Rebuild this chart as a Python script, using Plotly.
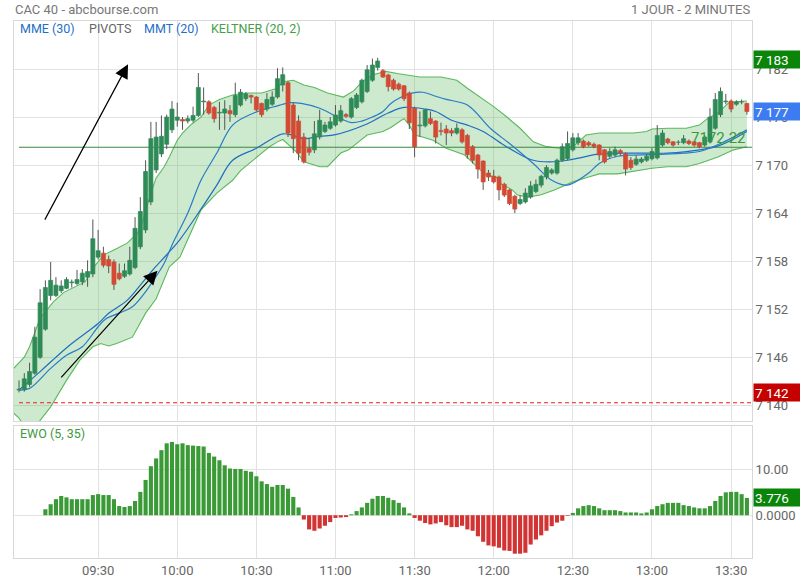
import plotly.graph_objects as go
import pandas as pd

DAY = "2024-01-02 "

# ---------------- candles (2-minute bars from 09:00) ----------------
opens = [7141.9, 7142.0, 7142.6, 7144.0, 7146.0, 7149.5, 7153.7, 7153.7, 7154.3, 7154.6,
         7155.3, 7155.2, 7155.4, 7156.0, 7156.4, 7158.5, 7159.0, 7158.2, 7157.9, 7156.5,
         7156.1, 7156.4, 7157.2, 7159.8, 7161.9, 7165.4, 7169.4, 7171.4, 7172.6, 7174.4,
         7175.6, 7175.7, 7175.5, 7175.6, 7176.2, 7177.9, 7177.9, 7177.2, 7176.5, 7176.5,
         7176.8, 7176.3, 7177.5, 7178.3, 7178.7, 7178.5, 7177.7, 7177.0, 7177.6, 7178.5,
         7180.0, 7180.3, 7177.5, 7175.5, 7173.5, 7172.1, 7171.9, 7173.5, 7174.2, 7174.6,
         7175.0, 7175.5, 7176.3, 7176.0, 7177.2, 7177.9, 7179.2, 7180.6, 7182.2, 7181.8,
         7181.25, 7180.6, 7180.1, 7179.9, 7179.0, 7177.1, 7174.9, 7174.9, 7175.8, 7175.5,
         7174.3, 7174.5, 7174.3, 7174.0, 7174.4, 7173.7, 7172.3, 7171.25, 7170.5, 7169.0,
         7168.6, 7168.5, 7167.6, 7166.9, 7166.1, 7165.2, 7165.4, 7166.0, 7166.7, 7167.5,
         7168.5, 7169.0, 7169.0, 7170.6, 7170.8, 7171.9, 7172.8, 7173.0, 7172.8, 7172.6,
         7172.5, 7171.9, 7171.1, 7171.25, 7171.8, 7171.4, 7170.6, 7170.1, 7170.4, 7170.6,
         7170.8, 7170.9, 7172.5, 7173.25, 7172.9, 7172.85, 7172.8, 7173.0, 7172.9, 7172.8,
         7172.5, 7172.9, 7174.6, 7176.3, 7177.9, 7178.0, 7177.6, 7177.9, 7177.7]
highs = [7143.1, 7144.0, 7145.3, 7149.8, 7154.5, 7155.6, 7157.9, 7156.0, 7155.6, 7156.0,
         7155.7, 7156.9, 7157.0, 7158.1, 7163.2, 7161.9, 7159.8, 7158.7, 7158.2, 7157.7,
         7157.7, 7159.8, 7163.5, 7166.0, 7170.6, 7175.4, 7175.4, 7176.2, 7176.3, 7178.0,
         7177.8, 7176.0, 7176.2, 7177.3, 7181.5, 7179.7, 7178.1, 7177.4, 7177.9, 7178.1,
         7177.5, 7180.3, 7179.5, 7179.1, 7178.8, 7178.6, 7177.8, 7179.0, 7179.2, 7182.1,
         7182.2, 7180.5, 7177.8, 7176.2, 7174.0, 7173.3, 7175.5, 7176.9, 7175.4, 7176.0,
         7177.5, 7177.5, 7176.5, 7178.5, 7179.0, 7180.8, 7182.5, 7183.3, 7183.4, 7182.0,
         7181.4, 7180.8, 7180.3, 7180.0, 7179.2, 7177.3, 7176.7, 7177.0, 7176.7, 7175.6,
         7175.3, 7175.0, 7174.6, 7175.2, 7174.6, 7173.9, 7172.5, 7171.4, 7170.6, 7169.4,
         7169.4, 7168.7, 7167.8, 7167.0, 7166.3, 7166.25, 7167.1, 7168.0, 7168.2, 7168.8,
         7170.0, 7169.6, 7170.8, 7172.7, 7174.2, 7174.0, 7174.0, 7173.2, 7173.0, 7172.8,
         7172.6, 7172.0, 7172.1, 7172.3, 7172.0, 7171.6, 7171.0, 7171.2, 7171.0, 7171.4,
         7172.1, 7175.0, 7174.4, 7173.4, 7173.0, 7173.1, 7173.75, 7173.2, 7173.0, 7172.9,
         7173.7, 7177.1, 7179.0, 7179.7, 7178.9, 7178.2, 7178.1, 7178.2, 7177.8]
lows = [7141.6, 7141.7, 7142.3, 7143.8, 7145.8, 7149.3, 7153.1, 7153.5, 7154.0, 7154.5,
        7154.7, 7155.0, 7155.0, 7154.8, 7156.0, 7158.2, 7157.2, 7156.5, 7154.4, 7155.6,
        7155.9, 7156.2, 7157.0, 7159.5, 7161.5, 7165.0, 7169.0, 7171.0, 7172.0, 7174.0,
        7174.8, 7174.4, 7175.2, 7175.3, 7176.0, 7176.3, 7176.3, 7175.3, 7174.4, 7174.4,
        7175.4, 7176.0, 7177.3, 7178.0, 7177.7, 7176.7, 7176.0, 7176.7, 7177.4, 7178.3,
        7179.2, 7173.5, 7171.5, 7170.6, 7170.2, 7171.2, 7171.5, 7173.2, 7174.0, 7174.4,
        7174.8, 7175.3, 7175.9, 7175.8, 7177.0, 7177.7, 7179.0, 7180.4, 7181.8, 7180.9,
        7179.2, 7179.3, 7179.3, 7178.0, 7174.5, 7171.0, 7173.5, 7174.7, 7175.0, 7172.7,
        7173.7, 7172.5, 7173.6, 7173.8, 7172.7, 7170.8, 7170.2, 7168.3, 7166.9, 7168.0,
        7167.7, 7165.6, 7166.0, 7165.0, 7164.0, 7165.0, 7165.2, 7165.8, 7166.5, 7167.2,
        7168.2, 7168.8, 7168.8, 7170.4, 7170.6, 7171.7, 7172.5, 7172.1, 7172.3, 7172.1,
        7170.6, 7170.2, 7170.9, 7171.0, 7171.2, 7168.7, 7169.4, 7169.9, 7170.2, 7170.4,
        7170.6, 7170.7, 7172.3, 7172.6, 7172.3, 7172.5, 7172.6, 7172.5, 7172.3, 7172.1,
        7172.3, 7172.7, 7174.4, 7176.0, 7177.6, 7176.6, 7177.4, 7177.6, 7176.3]
closes = [7142.0, 7143.3, 7144.2, 7148.5, 7152.8, 7154.7, 7155.6, 7155.0, 7154.9, 7155.7,
          7155.4, 7155.7, 7156.5, 7156.7, 7160.8, 7159.3, 7157.5, 7157.4, 7155.1, 7155.8,
          7156.8, 7158.1, 7162.1, 7164.2, 7169.2, 7173.3, 7173.5, 7173.6, 7176.0, 7177.0,
          7176.0, 7175.5, 7175.8, 7176.2, 7179.7, 7178.0, 7176.5, 7175.8, 7176.6, 7177.0,
          7176.4, 7178.7, 7179.1, 7178.9, 7178.5, 7176.9, 7176.3, 7178.2, 7178.5, 7180.8,
          7181.3, 7174.0, 7173.3, 7171.5, 7170.4, 7171.6, 7173.9, 7175.6, 7175.0, 7175.4,
          7176.25, 7176.8, 7176.1, 7178.3, 7178.75, 7180.6, 7181.9, 7182.5, 7183.0, 7181.0,
          7179.8, 7179.5, 7179.5, 7178.3, 7175.3, 7172.3, 7175.0, 7176.9, 7175.2, 7173.5,
          7174.2, 7174.0, 7174.0, 7174.6, 7172.9, 7171.3, 7170.6, 7169.5, 7167.9, 7168.5,
          7167.9, 7166.9, 7166.25, 7165.2, 7164.5, 7165.7, 7166.5, 7167.4, 7167.6, 7168.6,
          7169.7, 7169.4, 7170.6, 7172.3, 7172.7, 7173.4, 7173.4, 7172.3, 7172.5, 7172.3,
          7171.25, 7170.4, 7171.7, 7171.9, 7171.5, 7169.5, 7169.7, 7170.75, 7170.75, 7171.1,
          7171.7, 7173.7, 7174.0, 7172.8, 7172.5, 7172.9, 7173.3, 7172.7, 7172.5, 7172.3,
          7173.5, 7176.0, 7178.2, 7179.2, 7178.0, 7177.0, 7177.9, 7177.95, 7176.7]

# ---------------- EWO (5, 35) histogram ----------------
ewo = [None, None, None, None, None,
       1.3, 2.4, 3.5, 4.2, 3.9, 3.5, 3.5, 3.5, 3.5, 4.4, 4.6, 4.4, 4.4, 3.5, 2.0,
       1.8, 2.0, 3.1, 5.1, 7.7, 10.7, 12.4, 14.2, 15.7, 16.0, 15.5, 15.7, 15.3, 15.2,
       15.1, 15.0, 13.6, 12.8, 12.0, 10.9, 10.2, 10.1, 10.1, 9.7, 9.5, 8.5, 7.4, 6.8,
       6.2, 6.6, 6.6, 5.8, 4.0, 1.7, -0.95, -3.1, -3.4, -2.9, -2.3, -1.5, -0.6, -0.5,
       -0.4, 0.2, 0.9, 1.7, 2.7, 3.6, 4.2, 4.2, 3.8, 3.3, 2.7, 1.7, 0.4, -0.6, -1.2,
       -1.7, -2.0, -1.8, -1.5, -2.2, -2.6, -2.6, -2.3, -3.1, -3.4, -4.6, -5.8, -6.6,
       -6.8, -7.1, -7.7, -7.8, -8.4, -8.4, -8.2, -6.4, -5.3, -4.4, -3.4, -2.4, -1.6,
       -1.2, -0.15, 0.5, 1.5, 2.0, 2.2, 2.0, 1.5, 1.1, 1.1, 1.1, 0.9, 0.6, 0.6, 0.6,
       0.4, 0.6, 1.3, 2.0, 2.4, 2.7, 2.7, 2.7, 2.2, 2.0, 1.7, 1.5, 1.5, 2.0, 3.1, 4.2,
       5.0, 5.1, 5.1, 4.6, 3.776]

# ---------------- Keltner (20, 2) ----------------
kelt_up_t = ["08:58", "09:02", "09:04", "09:06", "09:08", "09:09", "09:11", "09:13", "09:17", "09:21",
             "09:25", "09:28", "09:32", "09:36", "09:41", "09:45", "09:47", "09:50", "09:52", "09:55",
             "09:57", "10:00", "10:02", "10:05", "10:09", "10:12", "10:16", "10:21", "10:26", "10:32",
             "10:38", "10:40", "10:44", "10:48", "10:52", "10:57", "11:03", "11:07", "11:10", "11:14",
             "11:19", "11:24", "11:32", "11:40", "11:46", "11:50", "11:55", "12:00", "12:05", "12:10",
             "12:15", "12:20", "12:25", "12:30", "12:35", "12:40", "12:47", "12:53", "12:58", "13:00",
             "13:06", "13:13", "13:18", "13:21", "13:25", "13:29", "13:32", "13:36"]
kelt_up_v = [7144.6, 7146.0, 7147.3, 7149.0, 7150.9, 7151.25, 7152.1, 7152.9, 7154.1, 7154.75,
             7155.4, 7157.1, 7158.75, 7159.4, 7160.25, 7161.5, 7163.1, 7166.5, 7168.4, 7169.75,
             7171.0, 7173.1, 7174.0, 7175.0, 7176.0, 7177.5, 7178.2, 7178.75, 7179.0, 7179.0,
             7179.6, 7180.4, 7180.6, 7180.0, 7179.7, 7179.0, 7178.5, 7179.3, 7180.4, 7181.25,
             7181.7, 7181.4, 7181.0, 7181.0, 7180.6, 7179.6, 7178.5, 7177.3, 7176.0, 7174.6,
             7172.9, 7172.3, 7172.1, 7172.3, 7173.75, 7174.0, 7174.0, 7174.0, 7174.2, 7174.5,
             7174.6, 7174.6, 7175.0, 7175.8, 7176.5, 7177.75, 7177.9, 7178.0]
kelt_lo_t = ["08:58", "09:00", "09:02", "09:05", "09:08", "09:12", "09:18", "09:23", "09:28", "09:31",
             "09:34", "09:37", "09:43", "09:48", "09:52", "09:57", "10:01", "10:09", "10:15", "10:21",
             "10:24", "10:30", "10:35", "10:38", "10:40", "10:43", "10:45", "10:48", "10:50", "10:54",
             "10:57", "11:02", "11:05", "11:08", "11:12", "11:18", "11:21", "11:25", "11:26", "11:28",
             "11:30", "11:33", "11:37", "11:42", "11:45", "11:49", "11:53", "11:57", "12:01", "12:03",
             "12:07", "12:09", "12:13", "12:18", "12:23", "12:30", "12:36", "12:40", "12:47", "12:53",
             "13:00", "13:06", "13:13", "13:18", "13:25", "13:31", "13:36"]
kelt_lo_v = [7139.0, 7138.4, 7137.3, 7137.0, 7138.1, 7139.8, 7143.1, 7145.6, 7147.3, 7147.7,
             7147.4, 7147.7, 7148.5, 7151.5, 7153.3, 7157.3, 7158.5, 7164.4, 7166.5, 7168.1,
             7169.3, 7171.0, 7172.3, 7172.9, 7173.2, 7172.3, 7171.7, 7170.4, 7170.2, 7169.8,
             7169.8, 7171.5, 7171.9, 7172.7, 7173.75, 7174.2, 7174.7, 7175.6, 7175.8, 7175.0,
             7173.75, 7173.5, 7173.1, 7172.1, 7171.7, 7171.25, 7170.0, 7168.75, 7168.5, 7167.6,
             7166.9, 7166.25, 7166.0, 7166.3, 7166.9, 7167.9, 7168.5, 7168.9, 7168.9, 7169.2,
             7169.6, 7169.8, 7169.8, 7170.2, 7171.0, 7171.9, 7172.3]

# ---------------- moving averages ----------------
mmt_t = ["09:00", "09:04", "09:12", "09:18", "09:24", "09:30", "09:33", "09:38", "09:43", "09:47",
         "09:51", "09:55", "09:58", "10:04", "10:09", "10:15", "10:21", "10:29", "10:38", "10:43",
         "10:47", "10:54", "11:02", "11:06", "11:10", "11:14", "11:18", "11:21", "11:25", "11:29",
         "11:33", "11:38", "11:42", "11:50", "11:59", "12:06", "12:15", "12:22", "12:28", "12:36",
         "12:40", "12:47", "12:53", "13:00", "13:12", "13:18", "13:26", "13:36"]
mmt_v = [7141.9, 7142.1, 7144.6, 7146.25, 7147.3, 7149.8, 7150.8, 7151.5, 7152.3, 7153.75,
         7155.6, 7157.7, 7160.0, 7164.0, 7168.1, 7171.5, 7175.0, 7176.5, 7177.4, 7177.8,
         7177.7, 7177.1, 7175.8, 7175.3, 7175.5, 7176.0, 7176.7, 7177.7, 7178.5, 7179.0,
         7179.1, 7178.6, 7178.2, 7177.5, 7174.5, 7172.7, 7170.2, 7168.1, 7167.5, 7169.0,
         7170.2, 7171.1, 7171.25, 7171.3, 7171.5, 7171.7, 7172.7, 7174.4]
mme_t = ["09:00", "09:08", "09:14", "09:20", "09:30", "09:34", "09:41", "09:47", "09:51", "09:56",
         "10:01", "10:09", "10:15", "10:21", "10:30", "10:36", "10:40", "10:43", "10:48", "10:54",
         "11:00", "11:11", "11:20", "11:26", "11:34", "11:38", "11:44", "11:50", "11:56", "12:02",
         "12:09", "12:15", "12:21", "12:28", "12:34", "12:40", "12:53", "13:06", "13:18", "13:26",
         "13:36"]
mme_v = [7141.9, 7144.2, 7146.0, 7147.7, 7150.2, 7151.5, 7153.1, 7155.4, 7157.0, 7158.8,
         7160.7, 7164.5, 7167.5, 7170.6, 7172.1, 7173.3, 7173.9, 7173.8, 7173.3, 7173.6,
         7173.8, 7175.0, 7176.5, 7177.2, 7177.0, 7176.7, 7175.6, 7175.0, 7174.2, 7172.9,
         7171.5, 7170.6, 7170.4, 7170.6, 7171.0, 7171.4, 7171.5, 7171.5, 7171.9, 7172.5,
         7174.2]

# ---------------- levels, tags, arrows, ticks ----------------
pivot_level = 7172.22
prev_level = 7140.3
day_high, last_close, day_low = 7183.2, 7176.7, 7141.6
tag_texts = ["7 183", "7 177", "7 142"]
ewo_last = 3.776
arrow_tails = [("09:09:30", 7163.0), ("09:15:30", 7143.3)]
arrow_heads = [("09:41:20", 7182.6), ("09:52:30", 7156.8)]

price_ticks = [7140, 7146, 7152, 7158, 7164, 7170, 7176, 7182]
time_ticks = ["09:30", "10:00", "10:30", "11:00", "11:30", "12:00", "12:30", "13:00", "13:30"]
ewo_ticks = [0, 10]
ewo_ticktext = ["0.0000", "10.00"]

# ---------------- build ----------------
def T(s):
    return pd.Timestamp(DAY + s)

times = pd.date_range(DAY + "09:00", periods=len(opens), freq="2min")
x_lo, x_hi = T("08:58:06"), T("13:37:56")
half = pd.Timedelta(seconds=46)

GREEN_C, RED_C = "#2e8b57", "#d24a33"
BLUE1, BLUE2 = "#1f6fbf", "#2a7cc4"
FONT = "Roboto"
GRID = "#e2e2e2"

fig = go.Figure()

fig.add_trace(go.Scatter(x=[T(t) for t in kelt_up_t], y=kelt_up_v, mode="lines",
                         line=dict(color="#5cb85c", width=1.1), showlegend=False, hoverinfo="skip"))
fig.add_trace(go.Scatter(x=[T(t) for t in kelt_lo_t], y=kelt_lo_v, mode="lines",
                         line=dict(color="#5cb85c", width=1.1), fill="tonexty",
                         fillcolor="rgba(76,175,80,0.28)", showlegend=False, hoverinfo="skip"))
fig.add_trace(go.Scatter(x=[times[0], x_hi], y=[pivot_level, pivot_level], mode="lines",
                         line=dict(color="#3b8a3b", width=1.1), showlegend=False, hoverinfo="skip"))
fig.add_trace(go.Scatter(x=[times[0], x_hi], y=[prev_level, prev_level], mode="lines",
                         line=dict(color="#f01c1c", width=1.1, dash="4px,3px"), showlegend=False,
                         hoverinfo="skip"))
fig.add_trace(go.Scatter(x=[T(t) for t in mme_t], y=mme_v, mode="lines", line_shape="spline",
                         line=dict(color=BLUE1, width=1.2), showlegend=False, hoverinfo="skip"))
fig.add_trace(go.Scatter(x=[T(t) for t in mmt_t], y=mmt_v, mode="lines", line_shape="spline",
                         line=dict(color=BLUE2, width=1.2), showlegend=False, hoverinfo="skip"))

wx, wy = [], []
for t, lo, hi in zip(times, lows, highs):
    wx += [t, t, None]
    wy += [lo, hi, None]
fig.add_trace(go.Scatter(x=wx, y=wy, mode="lines", line=dict(color="#555555", width=1),
                         showlegend=False, hoverinfo="skip"))
for up, col in [(True, GREEN_C), (False, RED_C)]:
    bx, by = [], []
    for t, o, c in zip(times, opens, closes):
        if (c >= o) != up:
            continue
        lo_b, hi_b = min(o, c), max(o, c)
        bx += [t - half, t + half, t + half, t - half, t - half, None]
        by += [lo_b, lo_b, hi_b, hi_b, lo_b, None]
    fig.add_trace(go.Scatter(x=bx, y=by, mode="lines", fill="toself", fillcolor=col,
                             line=dict(color=col, width=0.7), showlegend=False, hoverinfo="skip"))

ewo_colors = ["#3a9a35" if (v is not None and v >= 0) else "#d23434" for v in ewo]
fig.add_trace(go.Bar(x=times, y=ewo, marker=dict(color=ewo_colors, line=dict(width=0)),
                     xaxis="x2", yaxis="y2", showlegend=False, hoverinfo="skip"))

axis_font = dict(family=FONT, size=13, color="#666666")
fig.update_layout(
    width=800, height=580, paper_bgcolor="white", plot_bgcolor="white",
    margin=dict(l=14, r=48, t=21, b=22, autoexpand=False), separators=". ", bargap=0.22,
    barmode="overlay", font=dict(family=FONT), showlegend=False,
    xaxis=dict(type="date", range=[x_lo, x_hi], domain=[0, 1], anchor="y", automargin=False,
               showticklabels=False, tickvals=[T(t) for t in time_ticks], showgrid=True,
               gridcolor=GRID, showline=True, linecolor="#d8d8d8", mirror=True, zeroline=False,
               ticks=""),
    yaxis=dict(domain=[0.2547, 1], range=[7138, 7188], side="right", tickvals=price_ticks,
               tickformat=",d", showgrid=True, gridcolor=GRID, showline=True, automargin=False,
               linecolor="#d8d8d8", mirror=True, zeroline=False, tickfont=axis_font, ticks=""),
    xaxis2=dict(type="date", range=[x_lo, x_hi], domain=[0, 1], anchor="y2", matches="x",
                tickvals=[T(t) for t in time_ticks], tickformat="%H:%M", showgrid=True,
                automargin=False, gridcolor=GRID, showline=True, linecolor="#d8d8d8",
                mirror=True, zeroline=False, tickfont=axis_font, ticks=""),
    yaxis2=dict(domain=[0, 0.246], range=[-9.34, 19.5], side="right", tickvals=ewo_ticks,
                ticktext=ewo_ticktext, showgrid=True, gridcolor=GRID, showline=True,
                automargin=False, linecolor="#d8d8d8", mirror=True, zeroline=False,
                tickfont=axis_font, ticks=""),
)

ann = []
ann.append(dict(text="CAC 40 - abcbourse.com", xref="paper", yref="paper", x=0, y=1,
                xanchor="left", yanchor="middle", yshift=12, xshift=-1, showarrow=False,
                font=dict(family=FONT, size=13, color="#777777")))
ann.append(dict(text="1 JOUR - 2 MINUTES", xref="paper", yref="paper", x=1, y=1,
                xanchor="right", yanchor="middle", yshift=12, showarrow=False,
                font=dict(family=FONT, size=13, color="#777777")))
legend_items = [("MME (30)", "#1f6fc8", 4), ("PIVOTS", "#666666", 73),
                ("MMT (20)", "#1f6fc8", 128), ("KELTNER (20, 2)", "#43a047", 195)]
for txt, col, dx in legend_items:
    ann.append(dict(text=txt, xref="paper", yref="paper", x=0, y=1, xanchor="left",
                    yanchor="middle", xshift=dx, yshift=-7, showarrow=False,
                    font=dict(family=FONT, size=12.5, color=col)))
ann.append(dict(text="EWO (5, 35)", xref="paper", yref="paper", x=0, y=0.246, xanchor="left",
                yanchor="middle", xshift=4, yshift=-8, showarrow=False,
                font=dict(family=FONT, size=12.5, color="#3d9a3d")))
ann.append(dict(text=f"{pivot_level:.2f}", xref="paper", yref="y", x=1, y=pivot_level,
                xanchor="right", yanchor="bottom", xshift=-4, yshift=-2, showarrow=False,
                font=dict(family=FONT, size=15, color="#3a9a3a")))
for txt, val, col in zip(tag_texts, [day_high, last_close, day_low],
                         ["#0a850a", "#3d7cf0", "#c40000"]):
    ann.append(dict(text=txt, xref="paper", yref="y", x=1, y=val, xanchor="left",
                    yanchor="middle", xshift=1, showarrow=False, bgcolor=col, width=44,
                    height=15, align="left", borderpad=1,
                    font=dict(family=FONT, size=13.5, color="white")))
ann.append(dict(text=f"{ewo_last:.3f}", xref="paper", yref="y2", x=1, y=ewo_last,
                xanchor="left", yanchor="middle", xshift=1, showarrow=False, bgcolor="#0a850a",
                width=44, height=15, align="left", borderpad=1,
                font=dict(family=FONT, size=13.5, color="white")))
for (tt, tv), (ht, hv) in zip(arrow_tails, arrow_heads):
    ann.append(dict(x=T(ht), y=hv, ax=T(tt), ay=tv, xref="x", yref="y", axref="x", ayref="y",
                    showarrow=True, arrowhead=2, arrowsize=2.3, arrowwidth=1.2,
                    arrowcolor="black", text=""))
fig.update_layout(annotations=ann)

# remove the browser's default 8px page margin so the 800x580 figure fills the window
fig.write_html("out.html", config={"displayModeBar": False, "staticPlot": True},
               post_script="document.body.style.margin='0px';")
